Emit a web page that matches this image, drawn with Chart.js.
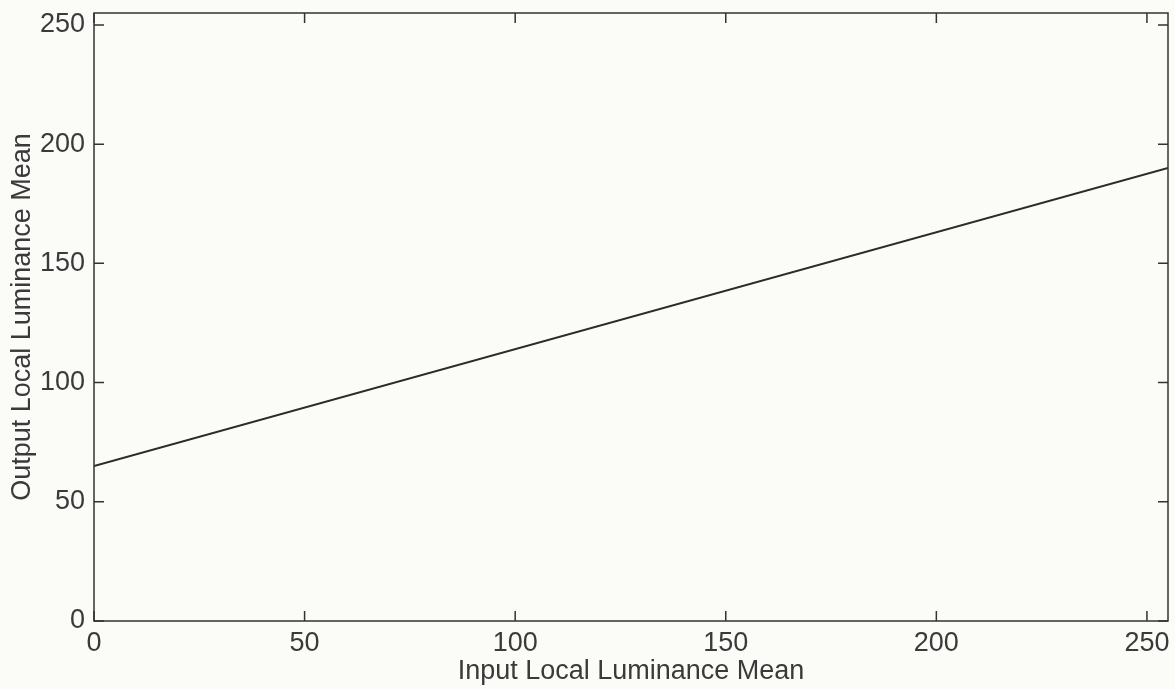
<!DOCTYPE html>
<html>
<head>
<meta charset="utf-8">
<script src="https://cdn.jsdelivr.net/npm/chart.js@4"></script>
<style>
    html, body { margin: 0; padding: 0; background: #fbfbf8; }
    #wrap { width: 1175px; height: 689px; }
</style>
</head>
<body>
<div id="wrap"><canvas id="lumChart" width="1175" height="689"></canvas></div>
<script>
// Valori
const inputMean = [0, 255];
const outputMean = [65, 190];
const xTicks = [0, 50, 100, 150, 200, 250];
const yTicks = [0, 50, 100, 150, 200, 250];

const axisColor = "#333333";
const textColor = "#3a3a3a";
const fontFamily = "'Liberation Sans', Arial, Helvetica, sans-serif";
const fontSize = 27;

// Cadru + gradatii spre interior pe toate laturile
const frameTicks = {
    id: "frameTicks",
    afterDatasetsDraw(chart) {
        const { ctx, chartArea: a, scales } = chart;
        const len = 10;
        ctx.save();
        ctx.strokeStyle = axisColor;
        ctx.lineWidth = 1.5;
        ctx.strokeRect(a.left, a.top, a.right - a.left, a.bottom - a.top);
        ctx.beginPath();
        xTicks.forEach(v => {
            const px = scales.x.getPixelForValue(v);
            ctx.moveTo(px, a.bottom); ctx.lineTo(px, a.bottom - len);
            ctx.moveTo(px, a.top); ctx.lineTo(px, a.top + len);
        });
        yTicks.forEach(v => {
            const py = scales.y.getPixelForValue(v);
            ctx.moveTo(a.left, py); ctx.lineTo(a.left + len, py);
            ctx.moveTo(a.right, py); ctx.lineTo(a.right - len, py);
        });
        ctx.stroke();
        ctx.restore();
    }
};

const ctx = document.getElementById("lumChart").getContext("2d");
const chart = new Chart(ctx, {
    type: "line",
    data: {
        datasets: [{
            data: inputMean.map((x, i) => ({ x: x, y: outputMean[i] })),
            borderColor: "#2b2b2b",
            borderWidth: 2,
            pointRadius: 0,
            tension: 0
        }]
    },
    options: {
        responsive: false,
        animation: false,
        layout: { padding: { left: 0, top: 13, right: 7, bottom: 0 } },
        plugins: { legend: { display: false }, tooltip: { enabled: false } },
        scales: {
            x: {
                type: "linear",
                min: 0,
                max: 255,
                afterFit: s => { s.height = 68; s.paddingLeft = 0; s.paddingRight = 0; },
                afterBuildTicks: s => { s.ticks = xTicks.map(v => ({ value: v })); },
                grid: { display: false, drawTicks: false },
                border: { display: false },
                ticks: {
                    color: textColor,
                    font: { family: fontFamily, size: fontSize },
                    padding: 6,
                    maxRotation: 0,
                    autoSkip: false
                },
                title: {
                    display: true,
                    text: "Input Local Luminance Mean",
                    color: textColor,
                    font: { family: fontFamily, size: fontSize },
                    padding: { top: 0, bottom: 1 }
                }
            },
            y: {
                type: "linear",
                min: 0,
                max: 255,
                afterFit: s => { s.width = 94; s.paddingTop = 0; s.paddingBottom = 0; },
                afterBuildTicks: s => { s.ticks = yTicks.map(v => ({ value: v })); },
                grid: { display: false, drawTicks: false },
                border: { display: false },
                ticks: {
                    color: textColor,
                    font: { family: fontFamily, size: fontSize },
                    padding: 9,
                    autoSkip: false
                },
                title: {
                    display: true,
                    text: "Output Local Luminance Mean",
                    color: textColor,
                    font: { family: fontFamily, size: fontSize },
                    padding: { top: 6, bottom: 0 }
                }
            }
        }
    },
    plugins: [frameTicks]
});
</script>
</body>
</html>
